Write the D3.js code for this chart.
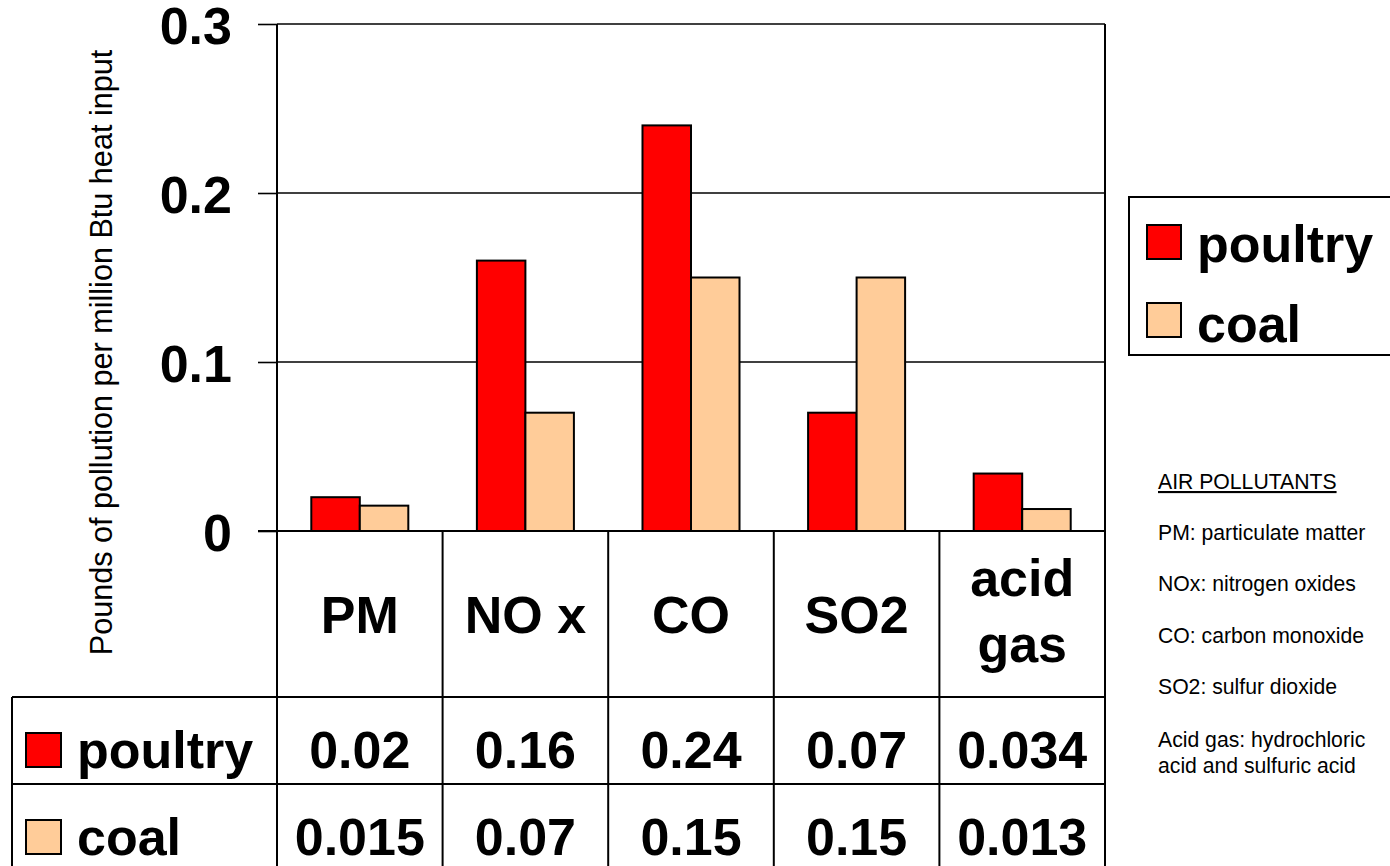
<!DOCTYPE html>
<html>
<head>
<meta charset="utf-8">
<script src="https://cdn.jsdelivr.net/npm/d3@7"></script>
<style>
  html, body { margin: 0; padding: 0; background: #fff; }
  svg { display: block; font-family: "Liberation Sans", Arial, Helvetica, sans-serif; }
</style>
</head>
<body>
<svg id="chart" width="1390" height="866"></svg>
<script>
// ---- data ----
const categories = ["PM", "NO x", "CO", "SO2", "acid gas"];
const seriesNames = ["poultry", "coal"];
const poultryValues = [0.02, 0.16, 0.24, 0.07, 0.034];
const coalValues = [0.015, 0.07, 0.15, 0.15, 0.013];
const yTicks = [0, 0.1, 0.2, 0.3];
const yTitle = "Pounds of pollution per million Btu heat input";
const notesTitle = "AIR POLLUTANTS";
const notes = [
  ["PM: particulate matter"],
  ["NOx: nitrogen oxides"],
  ["CO: carbon monoxide"],
  ["SO2: sulfur dioxide"],
  ["Acid gas: hydrochloric", "acid and sulfuric acid"]
];
const seriesValues = { poultry: poultryValues, coal: coalValues };
const colors = { poultry: "#ff0000", coal: "#ffcc99" };

// ---- layout ----
const svg = d3.select("#chart");
const plotL = 277, plotR = 1105, plotT = 24, plotB = 531;
const tableL = 12, catRowB = 697, row1B = 784, tableB = 870;
const bold = 52;

const x = d3.scaleBand().domain(categories).range([plotL, plotR]);
const xs = d3.scaleBand().domain(seriesNames).range([0, x.bandwidth()]).paddingOuter(0.707).paddingInner(0);
const y = d3.scaleLinear().domain([0, 0.3]).range([plotB, plotT]);

// gridlines
svg.append("g").selectAll("line").data(yTicks.filter(d => d > 0)).join("line")
  .attr("x1", plotL).attr("x2", plotR)
  .attr("y1", d => y(d)).attr("y2", d => y(d))
  .attr("stroke", "#000").attr("stroke-width", 1.6);

// y axis
const yAxis = svg.append("g").attr("transform", `translate(${plotL},0)`)
  .call(d3.axisLeft(y).tickValues(yTicks).tickSize(19).tickPadding(26)
    .tickFormat(d => d === 0 ? "0" : d.toFixed(1)));
yAxis.select(".domain").remove();
yAxis.selectAll(".tick line").attr("stroke", "#000").attr("stroke-width", 1.6);
yAxis.selectAll(".tick text").attr("font-size", bold).attr("font-weight", "bold")
  .attr("fill", "#000").attr("dy", "0.37em").attr("font-family", "Liberation Sans, Arial, sans-serif");

// y title
svg.append("text")
  .attr("transform", `translate(112,${(plotT + 48 + 655) / 2 - 11}) rotate(-90)`)
  .attr("text-anchor", "middle").attr("font-size", 30.6).attr("fill", "#000")
  .text(yTitle);

// bars
const groups = svg.append("g").selectAll("g").data(categories).join("g")
  .attr("transform", d => `translate(${x(d)},0)`);
groups.selectAll("rect").data((c, i) => seriesNames.map(s => ({ s, v: seriesValues[s][i] }))).join("rect")
  .attr("x", d => xs(d.s)).attr("width", xs.bandwidth())
  .attr("y", d => y(d.v)).attr("height", d => y(0) - y(d.v))
  .attr("fill", d => colors[d.s]).attr("stroke", "#000").attr("stroke-width", 2);

// table lines
const lines = svg.append("g").attr("stroke", "#000").attr("stroke-width", 2);
lines.append("line").attr("x1", 258).attr("x2", plotR).attr("y1", y(0)).attr("y2", y(0));
const edges = categories.map(c => x(c)).concat([plotR]);
lines.selectAll(".v").data(edges).join("line").attr("class", "v")
  .attr("x1", d => d).attr("x2", d => d)
  .attr("y1", (d, i) => (i === 0 || i === edges.length - 1) ? plotT : plotB)
  .attr("y2", tableB);
lines.append("line").attr("x1", tableL).attr("x2", tableL).attr("y1", catRowB).attr("y2", tableB);
lines.append("line").attr("x1", tableL).attr("x2", plotR).attr("y1", catRowB).attr("y2", catRowB);
lines.append("line").attr("x1", tableL).attr("x2", plotR).attr("y1", row1B).attr("y2", row1B);

// category labels (wrap if too wide)
const catG = svg.append("g");
categories.forEach(c => {
  const t = catG.append("text").attr("x", x(c) + x.bandwidth() / 2).attr("text-anchor", "middle")
    .attr("font-size", bold).attr("font-weight", "bold").attr("fill", "#000");
  t.text(c);
  const w = t.node().getComputedTextLength();
  if (w > x.bandwidth() - 10) {
    t.text(null);
    const parts = c.split(" ");
    parts.forEach((p, k) => {
      t.append("tspan").attr("x", x(c) + x.bandwidth() / 2).attr("y", 596 + k * 66).text(p);
    });
  } else {
    t.attr("y", 633);
  }
});

// data rows
const rowBaselines = [768, 855];
const swatchTops = [733, 820];
seriesNames.forEach((s, r) => {
  svg.append("rect").attr("x", 26).attr("y", swatchTops[r]).attr("width", 35).attr("height", 34)
    .attr("fill", colors[s]).attr("stroke", "#000").attr("stroke-width", 2);
  svg.append("text").attr("x", 77).attr("y", rowBaselines[r])
    .attr("font-size", bold).attr("font-weight", "bold").attr("fill", "#000").text(s);
  svg.append("g").selectAll("text").data(seriesValues[s]).join("text")
    .attr("x", (d, i) => x(categories[i]) + x.bandwidth() / 2)
    .attr("y", rowBaselines[r]).attr("text-anchor", "middle")
    .attr("font-size", bold).attr("font-weight", "bold").attr("fill", "#000")
    .text(d => String(d));
});

// legend
const lg = svg.append("g");
lg.append("rect").attr("x", 1129).attr("y", 197).attr("width", 270).attr("height", 158)
  .attr("fill", "#fff").attr("stroke", "#000").attr("stroke-width", 2);
const legTops = [225, 303], legBase = [262, 342];
seriesNames.forEach((s, r) => {
  lg.append("rect").attr("x", 1147).attr("y", legTops[r]).attr("width", 34).attr("height", 34)
    .attr("fill", colors[s]).attr("stroke", "#000").attr("stroke-width", 2);
  lg.append("text").attr("x", 1197).attr("y", legBase[r])
    .attr("font-size", bold).attr("font-weight", "bold").attr("fill", "#000").text(s);
});

// notes
const ng = svg.append("g").attr("font-size", 21.2).attr("fill", "#000");
ng.append("text").attr("x", 1158).attr("y", 489).attr("text-decoration", "underline").text(notesTitle);
const noteBase = [540, 591, 643, 694, 747];
notes.forEach((lns, i) => {
  lns.forEach((l, k) => {
    ng.append("text").attr("x", 1158).attr("y", noteBase[i] + k * 26).text(l);
  });
});
</script>
</body>
</html>
